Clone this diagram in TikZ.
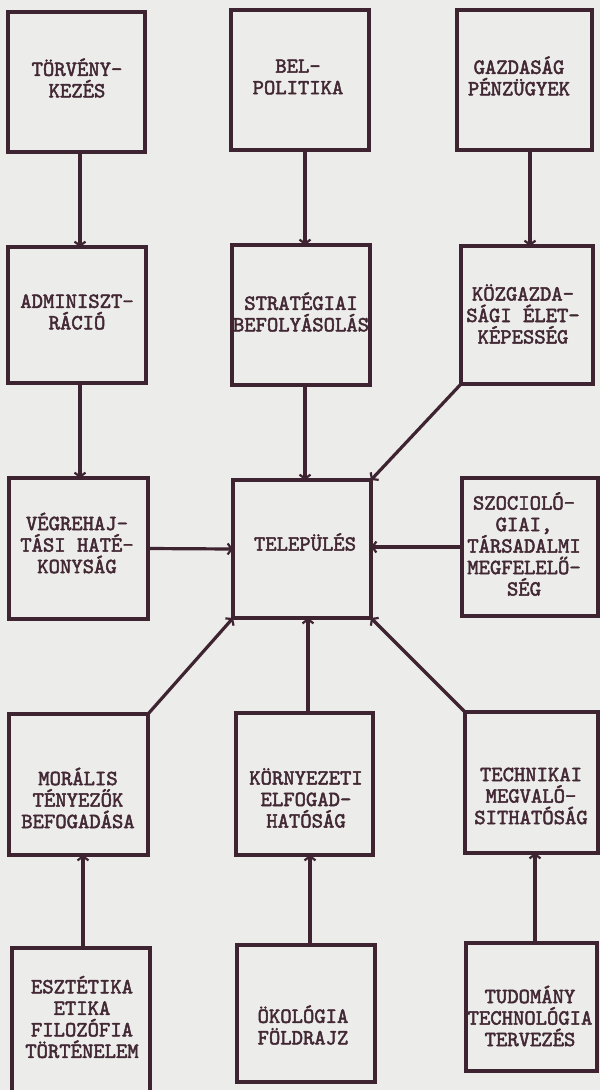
\documentclass[tikz,border=0pt]{standalone}
\usepackage{fontspec}
\newfontfamily\twfont{lmmono10-regular.otf}[FakeBold=2.2]
\usetikzlibrary{arrows.meta}
\definecolor{ink}{RGB}{62,36,48}
\definecolor{txtc}{RGB}{66,40,52}
\definecolor{bgc}{RGB}{236,236,234}
\tikzset{
  box/.style={draw=ink, line width=3.4pt, rectangle, inner sep=0pt, outer sep=0pt},
  lbl/.style={text=txtc, font=\fontsize{21.6}{21.5}\selectfont\twfont, align=center, inner sep=0pt},
  arr/.style={draw=ink, line width=3.2pt, -{Straight Barb[length=4pt,width=11pt,line width=2.2pt]}}
}
\newcommand\ubox[5]{\node[box, minimum width={(#4-#2)*1pt}, minimum height={(#5-#3)*1pt}] (#1) at ({(#2+#4)/2},{-(#3+#5)/2}) {};}
\begin{document}
\begin{tikzpicture}[x=1pt,y=1pt]
\fill[bgc] (0,0) rectangle (600,-1090);
\useasboundingbox (0,0) rectangle (600,-1090);
\clip (0,0) rectangle (600,-1090);
% boxes
\ubox{a1}{8}{12}{145}{152}
\ubox{a2}{231}{10}{369}{150}
\ubox{a3}{457}{10}{592}{150}
\ubox{b1}{8}{247}{146}{383}
\ubox{b2}{232}{245}{370}{385}
\ubox{b3}{461}{246}{593}{384}
\ubox{c1}{9}{478}{148}{619}
\ubox{c2}{233}{480}{371}{618}
\ubox{c3}{462}{478}{598}{616}
\ubox{d1}{9}{714}{148}{855}
\ubox{d2}{236}{713}{373}{855}
\ubox{d3}{465}{712}{598}{853}
\ubox{e1}{12}{948}{150}{1100}
\ubox{e2}{237}{945}{375}{1082}
\ubox{e3}{466}{943}{597}{1071}
% labels
\node[lbl] (ta1) at (77,-78) {TÖRVÉNY-\\KEZÉS};
\node[lbl] (ta2) at (298,-77) {BEL-\\POLITIKA};
\node[lbl] (ta3) at (519,-76) {GAZDASÁG\\PÉNZÜGYEK};
\node[lbl] (tb1) at (77,-312) {ADMINISZT-\\RÁCIÓ};
\node[lbl] (tb2) at (301,-312) {STRATÉGIAI\\BEFOLYÁSOLÁS};
\node[lbl] (tb3) at (523,-314) {KÖZGAZDA-\\SÁGI ÉLET-\\KÉPESSÉG};
\node[lbl] (tc1) at (77,-543) {VÉGREHAJ-\\TÁSI HATÉ-\\KONYSÁG};
\node[lbl] (tc2) at (305,-542) {TELEPÜLÉS};
\node[lbl] (tc3) at (524,-544) {SZOCIOLÓ-\\GIAI,\\TÁRSADALMI\\MEGFELELŐ-\\SÉG};
\node[lbl] (td1) at (78,-798) {MORÁLIS\\TÉNYEZŐK\\BEFOGADÁSA};
\node[lbl] (td2) at (306,-798) {KÖRNYEZETI\\ELFOGAD-\\HATÓSÁG};
\node[lbl] (td3) at (531,-796) {TECHNIKAI\\MEGVALÓ-\\SITHATÓSÁG};
\node[lbl] (te1) at (82,-1017) {ESZTÉTIKA\\ETIKA\\FILOZÓFIA\\TÖRTÉNELEM};
\node[lbl] (te2) at (303,-1025) {ÖKOLÓGIA\\FÖLDRAJZ};
\node[lbl] (te3) at (530,-1016) {TUDOMÁNY\\TECHNOLÓGIA\\TERVEZÉS};
% connectors
\draw[arr] (a1.south -| 80,0) -- (b1.north -| 80,0);
\draw[arr] (b1.south -| 80,0) -- (c1.north -| 80,0);
\draw[arr] (a2.south -| 305,0) -- (b2.north -| 305,0);
\draw[arr] (b2.south -| 305,0) -- (c2.north -| 305,0);
\draw[arr] (a3.south -| 530,0) -- (b3.north -| 530,0);
\draw[arr] (b3.south west) -- (c2.north east);
\draw[arr] (c1.east) -- (c2.west);
\draw[arr] (c3.west) -- (c3.west -| c2.east);
\draw[arr] (d1.north east) -- (c2.south west);
\draw[arr] (d2.north -| 308,0) -- (c2.south -| 308,0);
\draw[arr] (d3.north west) -- (c2.south east);
\draw[arr] (e1.north -| 83,0) -- (d1.south -| 83,0);
\draw[arr] (e2.north -| 310,0) -- (d2.south -| 310,0);
\draw[arr] (e3.north -| 535,0) -- (d3.south -| 535,0);
\end{tikzpicture}
\end{document}
